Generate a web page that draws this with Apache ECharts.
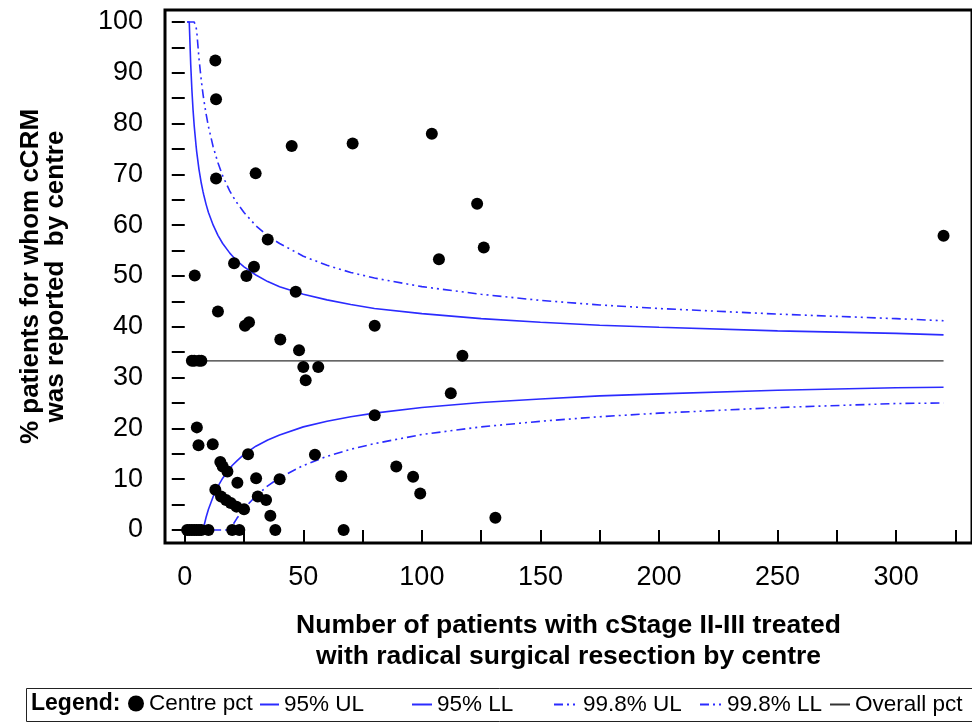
<!DOCTYPE html>
<html>
<head>
<meta charset="utf-8">
<script src="https://cdn.jsdelivr.net/npm/echarts@6/dist/echarts.min.js"></script>
<style>html,body{margin:0;padding:0;background:#fff}#c{width:972px;height:727px}</style>
</head>
<body>
<div id="c"></div>
<script>
// ---- data ----
const centreN = [12.9,13.2,13.2,29.9,45.1,70.8,104.2,123.3,126.1,107.2,35,320,4.2,20.8,29.2,26,46.8,14.0,25.4,27.1,40.3,80.1,48.2,50,51,56.3,117.1,112.2,80.1,3,4,6,7,5.1,5.8,11.8,26.7,15,16,18,22.2,30.1,40,12.9,15.3,17.4,19.4,21.8,25,30.8,34.3,36.1,38.2,54.9,66,89.2,96.3,99.3,131,67,1,2,3,4,5,6,7,10,20,23];
const centrePct = [92.4,84.8,69.2,70.2,75.6,76.1,78.0,64.2,55.6,53.3,57.2,57.9,50.1,52.5,51.8,50.0,46.9,43.0,40.2,40.9,37.5,40.2,35.4,32.1,29.5,32.1,34.3,26.9,22.6,33.3,33.3,33.3,33.3,20.2,16.7,16.9,14.9,13.4,12.5,11.5,9.3,10.2,10.0,7.9,6.6,5.9,5.3,4.6,4.1,6.6,5.9,2.8,0,14.8,10.6,12.5,10.5,7.2,2.4,0,0,0,0,0,0,0,0,0,0,0];

const limitN = [1,1.9,2.5,3,3.5,4,4.8,5,6,7,7.7,8,9,10,12,14,16,19,20,22,25,30,35,40,50,60,70,80,100,125,150,175,200,250,300,320];
const ul95 = [100,100,91.8,86.7,82.7,79.5,75.5,74.6,71.0,68.2,66.6,66.0,64.1,62.5,60.0,58.0,56.4,54.5,54.0,53.0,51.8,50.2,48.9,47.9,46.4,45.3,44.4,43.6,42.6,41.6,40.9,40.3,39.9,39.2,38.7,38.4];
const ll95 = [0,0,0,0,0,0,0,0,0,0,0,0.6,2.5,4.1,6.6,8.6,10.2,12.1,12.7,13.6,14.9,16.5,17.7,18.7,20.3,21.4,22.3,23.0,24.1,25.1,25.8,26.4,26.8,27.5,28.0,28.1];
const ul998 = [100,100,100,100,100,100,100,98.5,92.8,88.4,85.8,84.8,81.9,79.4,75.4,72.3,69.7,66.7,65.9,64.4,62.5,59.9,57.9,56.4,53.9,52.1,50.7,49.6,47.9,46.4,45.2,44.3,43.6,42.5,41.6,41.2];
const ll998 = [0,0,0,0,0,0,0,0,0,0,0,0,0,0,0,0,0,0,0.8,2.3,4.2,6.7,8.7,10.3,12.7,14.5,15.9,17.0,18.8,20.3,21.4,22.3,23.0,24.1,24.9,25.0];

const overallN = [1, 320];
const overallPct = [33.3, 33.3];

const xTicks = [0,25,50,75,100,125,150,175,200,225,250,275,300,325];
const xLabels = [0,50,100,150,200,250,300];
const yTicks = [0,5,10,15,20,25,30,35,40,45,50,55,60,65,70,75,80,85,90,95,100];
const yLabels = [0,10,20,30,40,50,60,70,80,90,100];

const seriesNames = ['Centre pct','95% UL','95% LL','99.8% UL','99.8% LL','Overall pct'];

// ---- build ----
const pair = (xs, ys) => xs.map((x, i) => [x, ys[i]]);
const BLUE = '#2b2bff';
const DASHDOT = [9, 4, 2, 4, 2, 4];
const SANS = '"Liberation Sans", Arial, sans-serif';

function lineSeries(name, ys, color, type) {
  return {
    name, type: 'line', data: pair(limitN, ys), symbol: 'none', showSymbol: false,
    lineStyle: { color, width: 1.6, type }, itemStyle: { color }, silent: true, z: 2
  };
}

const legendDefs = [
  { name: seriesNames[0], left: 128, w: 16, h: 16, icon: 'circle' },
  { name: seriesNames[1], left: 259, w: 19 },
  { name: seriesNames[2], left: 411, w: 20 },
  { name: seriesNames[3], left: 553, w: 24 },
  { name: seriesNames[4], left: 699, w: 22 },
  { name: seriesNames[5], left: 829, w: 20 }
];

const chart = echarts.init(document.getElementById('c'), null, { renderer: 'canvas' });
chart.setOption({
  animation: false,
  backgroundColor: '#fff',
  grid: {
    left: 165, top: 10, width: 817, height: 533,
    show: true, borderColor: '#000', borderWidth: 3, backgroundColor: 'transparent'
  },
  xAxis: {
    type: 'value', min: -8.33, max: 332,
    axisLine: { show: false },
    axisTick: { show: true, length: 12, lineStyle: { color: '#000', width: 2 }, customValues: xTicks },
    axisLabel: { customValues: xLabels, margin: 21, color: '#000', fontSize: 27, fontFamily: SANS },
    splitLine: { show: false },
    name: 'Number of patients with cStage II-III treated\nwith radical surgical resection by centre',
    nameLocation: 'middle', nameGap: 67,
    nameTextStyle: { fontSize: 26.5, fontWeight: 'bold', fontFamily: SANS, color: '#000', lineHeight: 31 }
  },
  yAxis: {
    type: 'value', min: -2.56, max: 102.36,
    axisLine: { show: false },
    axisTick: { show: true, length: 13, lineStyle: { color: '#000', width: 2 }, customValues: yTicks },
    axisLabel: { customValues: yLabels, margin: 22, color: '#000', fontSize: 27, fontFamily: SANS },
    splitLine: { show: false },
    name: '% patients for whom cCRM\nwas reported  by centre',
    nameLocation: 'middle', nameGap: 97,
    nameTextStyle: { fontSize: 26, fontWeight: 'bold', fontFamily: SANS, color: '#000', lineHeight: 25 }
  },
  legend: legendDefs.map(d => ({
    data: [d.icon ? { name: d.name, icon: d.icon } : { name: d.name }],
    left: d.left, top: d.h ? 692 : 693, itemWidth: d.w, itemHeight: d.h || 14,
    selectedMode: false, padding: 0, itemGap: 0,
    itemStyle: d.icon ? { color: '#000', opacity: 1 } : { opacity: 0 },
    textStyle: { fontSize: 22.5, fontFamily: SANS, color: '#000' }
  })),
  graphic: [
    { type: 'rect', left: 24, top: 686, shape: { width: 970, height: 33 }, style: { fill: 'none', stroke: '#222', lineWidth: 1 }, z: -1 },
    { type: 'text', left: 31, top: 692, style: { text: 'Legend:', font: 'bold 23px ' + SANS, fill: '#000', textVerticalAlign: 'top' } }
  ],
  series: [
    {
      name: seriesNames[0], type: 'scatter', data: pair(centreN, centrePct),
      symbol: 'circle', symbolSize: 12, itemStyle: { color: '#000', opacity: 1 }, z: 5, silent: true
    },
    lineSeries(seriesNames[1], ul95, BLUE, 'solid'),
    lineSeries(seriesNames[2], ll95, BLUE, 'solid'),
    lineSeries(seriesNames[3], ul998, BLUE, DASHDOT),
    lineSeries(seriesNames[4], ll998, BLUE, DASHDOT),
    {
      name: seriesNames[5], type: 'line', data: pair(overallN, overallPct), symbol: 'none',
      lineStyle: { color: '#333', width: 1.2 }, itemStyle: { color: '#333' }, z: 1, silent: true
    }
  ]
});
</script>
</body>
</html>
